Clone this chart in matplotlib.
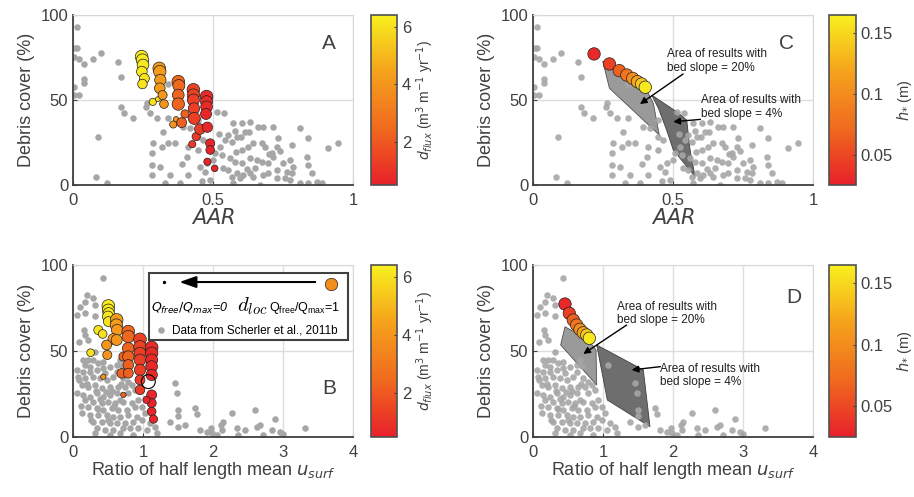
import numpy as np
import matplotlib
matplotlib.use('Agg')
import matplotlib.pyplot as plt
from matplotlib.colors import LinearSegmentedColormap, Normalize
from matplotlib.patches import Polygon, Rectangle
from matplotlib.ticker import FormatStrFormatter
import matplotlib.cm as cm

plt.rcParams['font.family'] = ['Liberation Sans', 'DejaVu Sans']

# --- Scherler et al. (2011b) glaciers, debris cover vs AAR ---
aar_x = [0.013, 0.007, 0.015, 0.004, 0.023, 0.039, 0.073, 0.099, 0.162, 0.171,
         0.039, 0.039, 0.004, 0.004, 0.023, 0.171, 0.182, 0.213, 0.09, 0.082,
         0.123, 0.263, 0.261, 0.275, 0.301, 0.34, 0.323, 0.284, 0.281, 0.317,
         0.34, 0.364, 0.281, 0.311, 0.281, 0.346, 0.329, 0.382, 0.388, 0.406,
         0.412, 0.412, 0.394, 0.418, 0.34, 0.382, 0.448, 0.465, 0.454, 0.448,
         0.477, 0.448, 0.472, 0.513, 0.539, 0.573, 0.602, 0.632, 0.662, 0.68,
         0.713, 0.579, 0.614, 0.63, 0.811, 0.555, 0.585, 0.84, 0.733, 0.543,
         0.567, 0.781, 0.912, 0.948, 0.644, 0.674, 0.686, 0.727, 0.626, 0.602,
         0.582, 0.525, 0.507, 0.531, 0.835, 0.71, 0.713, 0.775, 0.561, 0.579,
         0.602, 0.632, 0.656, 0.674, 0.698, 0.751, 0.787, 0.727, 0.763, 0.781,
         0.84, 0.852, 0.555, 0.585, 0.608, 0.632, 0.644, 0.68, 0.698, 0.567,
         0.596, 0.727, 0.757, 0.775, 0.811, 0.84, 0.87, 0.888, 0.668, 0.573,
         0.52, 0.5, 0.49, 0.535, 0.46, 0.62, 0.65, 0.7, 0.74, 0.6]
aar_y = [92.7, 80.7, 80.7, 75.4, 73.9, 71.1, 73.9, 77.8, 72.5, 63.7,
         62.1, 59.8, 57.4, 52.9, 52.9, 45.6, 42.5, 39.6, 28.4, 4.9,
         1.3, 48.4, 46.0, 42.5, 39.6, 39.2, 31.3, 24.9, 18.6, 22.5,
         24.5, 24.5, 11.7, 10.7, 5.8, 5.8, 1.3, 1.3, 12.3, 16.6,
         22.5, 5.8, 34.3, 33.3, 59.4, 57.4, 38.2, 26.4, 10.7, 28.4,
         12.7, 20.5, 7.8, 43.1, 42.5, 36.3, 36.3, 37.3, 33.9, 33.9,
         33.9, 31.9, 31.4, 31.4, 33.3, 29.4, 28.4, 27.8, 27.5, 26.5,
         25.5, 23.5, 21.6, 24.5, 24.5, 24.5, 22.5, 22.5, 22.5, 20.6,
         19.6, 22.5, 18.6, 17.6, 16.7, 18.6, 16.7, 14.7, 15.7, 13.7,
         12.7, 15.7, 14.7, 13.7, 12.7, 12.7, 10.8, 8.8, 7.8, 6.9,
         11.8, 6.9, 8.8, 6.9, 5.9, 6.9, 4.9, 5.9, 6.9, 4.9,
         3.9, 3.9, 3.9, 2.9, 1.0, 1.0, 2.0, 1.0, 0.0, 1.0,
         30.0, 15.0, 3.0, 10.0, 2.5, 9.5, 10.0, 18.0, 20.0, 28.0]

# --- same glaciers, debris cover vs ratio of half length mean u_surf ---
ratio_x = [0.424, 0.205, 0.281, 0.171, 0.314, 0.1, 0.052, 0.171, 0.314, 0.157,
           0.171, 0.219, 0.09, 0.314, 0.148, 0.219, 0.29, 0.171, 0.243, 0.362,
           0.433, 0.052, 0.148, 0.243, 0.338, 0.433, 0.529, 0.624, 0.671, 0.695,
           0.624, 0.076, 0.171, 0.29, 0.386, 0.481, 0.576, 0.719, 0.79, 0.124,
           0.219, 0.314, 0.41, 0.529, 0.648, 0.743, 0.838, 0.886, 0.052, 0.148,
           0.243, 0.338, 0.433, 0.529, 0.624, 0.671, 0.79, 0.171, 0.29, 0.41,
           0.505, 0.6, 0.719, 0.838, 0.933, 0.219, 0.338, 0.433, 0.552, 0.648,
           0.767, 0.886, 0.981, 0.124, 0.243, 0.362, 0.481, 0.576, 0.671, 0.79,
           0.91, 1.029, 0.29, 0.41, 0.529, 0.624, 0.743, 0.862, 0.981, 1.1,
           0.338, 0.457, 0.576, 0.719, 0.814, 0.933, 1.052, 1.171, 0.314, 0.529,
           0.671, 0.862, 1.195, 1.457, 1.48, 1.743, 1.767, 1.5, 1.38, 1.505,
           1.6, 1.814, 1.91, 1.98, 2.124, 2.267, 2.148, 2.338, 2.457, 2.624,
           2.838, 2.957, 3.314, 2.6, 2.886, 2.12, 2.67, 2.36, 2.71, 3.0,
           2.05, 1.97, 1.076, 1.505, 0.2, 0.38, 0.45, 0.26, 0.56, 0.68,
           0.36, 0.47, 0.58, 0.12, 0.09, 0.33, 0.5]
ratio_y = [92.2, 82.6, 80.6, 78.7, 76.7, 75.8, 70.9, 71.9, 70.3, 62.2,
           59.3, 56.4, 55.4, 49.6, 44.7, 44.7, 44.7, 41.9, 40.9, 42.8,
           43.8, 39.0, 38.0, 38.0, 39.0, 39.9, 40.9, 41.9, 44.7, 41.0,
           38.0, 35.1, 34.1, 35.1, 34.1, 33.1, 35.1, 34.1, 32.2, 30.2,
           29.3, 30.2, 28.3, 29.3, 29.3, 29.3, 30.2, 27.3, 25.4, 24.4,
           23.4, 25.4, 23.4, 24.4, 25.4, 21.5, 25.4, 21.5, 20.5, 19.6,
           20.5, 19.6, 20.5, 19.6, 21.5, 17.6, 16.7, 15.7, 16.7, 15.7,
           15.7, 17.6, 17.6, 13.8, 12.8, 12.8, 12.8, 11.8, 11.8, 12.8,
           11.8, 13.8, 8.9, 8.9, 7.9, 7.9, 7.9, 8.9, 9.9, 7.9,
           5.0, 4.1, 4.1, 5.0, 5.0, 5.0, 4.1, 6.0, 2.1, 1.2,
           2.1, 1.2, 2.1, 31.2, 25.4, 16.7, 13.4, 12.4, 8.5, 6.0,
           6.8, 4.0, 3.0, 2.1, 4.0, 13.8, 8.9, 5.0, 4.0, 6.0,
           4.0, 3.0, 5.0, 15.7, 10.2, 6.9, 6.9, 1.2, 1.2, 2.0,
           1.0, 5.0, 41.9, 15.7, 31.0, 22.0, 37.0, 10.0, 27.0, 31.0,
           16.0, 26.0, 18.0, 18.0, 33.0, 27.0, 10.0]

# --- model results, panel A: AAR, debris, Q_free/Q_max, d_flux ---
a_aar = [0.245, 0.248, 0.25, 0.246, 0.255, 0.248, 0.285, 0.303,
         0.308, 0.31, 0.312, 0.31, 0.32, 0.325, 0.358, 0.368,
         0.376, 0.378, 0.376, 0.376, 0.388, 0.4,
         0.43, 0.43, 0.43, 0.432, 0.433, 0.44, 0.426, 0.453,
         0.477, 0.477, 0.477, 0.475, 0.48, 0.49, 0.49, 0.48, 0.506]
a_deb = [75.5, 73.5, 70.6, 66.7, 62.7, 59.4, 48.9, 50.5,
         68.6, 66.7, 61.8, 56.9, 52.9, 47.6, 35.6, 38.7,
         60.8, 58.5, 52.9, 47.6, 36.7, 41.8,
         56.0, 52.9, 50.0, 45.0, 39.2, 28.5, 24.0, 32.9,
         52.0, 49.0, 46.0, 41.8, 34.0, 24.5, 20.6, 13.7, 9.8]
a_q = [1.0, 0.95, 0.85, 0.7, 0.6, 0.55, 0.3, 0.12,
       1.0, 0.95, 0.8, 0.7, 0.5, 0.45, 0.3, 0.15,
       1.0, 0.9, 0.85, 0.95, 0.6, 0.4,
       1.0, 0.95, 0.9, 0.8, 0.9, 0.4, 0.3, 0.7,
       1.0, 0.9, 0.85, 0.75, 0.65, 0.5, 0.45, 0.3, 0.25]
a_flux = [6.3, 6.3, 6.2, 6.2, 6.1, 6.1, 6.0, 6.0,
          4.2, 4.2, 4.1, 4.1, 4.0, 4.0, 3.9, 3.9,
          2.4, 2.4, 2.3, 2.3, 2.2, 2.2,
          1.4, 1.4, 1.3, 1.3, 1.3, 1.2, 1.2, 1.2,
          0.8, 0.8, 0.8, 0.7, 0.7, 0.7, 0.6, 0.6, 0.6]

# --- panel B: ratio, debris, Q_free/Q_max, d_flux ---
b_ratio = [0.505, 0.505, 0.51, 0.5, 0.505, 0.362, 0.424, 0.252,
           0.624, 0.62, 0.63, 0.576, 0.624, 0.48, 0.49, 0.433,
           0.79, 0.79, 0.72, 0.79, 0.79, 0.79, 0.695, 0.79, 0.72,
           0.957, 0.957, 0.957, 0.957, 0.957, 0.957, 0.957,
           1.124, 1.124, 1.124, 1.124, 1.124, 1.124, 1.124, 1.05, 1.124, 1.15]
b_deb = [76.2, 73.8, 71.9, 70.0, 67.1, 62.2, 59.9, 49.0,
         68.1, 65.1, 62.2, 57.0, 56.4, 53.5, 47.7, 35.0,
         61.3, 58.4, 46.8, 51.6, 46.8, 41.9, 37.0, 37.1, 24.5,
         56.8, 52.5, 48.7, 44.8, 39.0, 33.2, 27.4,
         52.1, 48.7, 44.8, 41.0, 36.1, 24.5, 19.7, 21.6, 14.8, 10.4]
b_q = [1.0, 0.9, 0.8, 0.75, 0.6, 0.5, 0.45, 0.35,
       1.0, 0.95, 0.8, 0.7, 0.75, 0.6, 0.5, 0.15,
       1.0, 0.95, 0.5, 0.85, 0.8, 0.7, 0.55, 0.6, 0.15,
       1.0, 0.95, 0.9, 0.85, 0.8, 0.6, 0.55,
       1.0, 0.95, 0.9, 0.85, 0.8, 0.6, 0.5, 0.3, 0.45, 0.4]
b_flux = [6.3, 6.3, 6.2, 6.2, 6.1, 6.1, 6.0, 6.0,
          4.2, 4.2, 4.1, 4.1, 4.0, 4.0, 3.9, 3.9,
          2.4, 2.4, 2.3, 2.3, 2.3, 2.2, 2.2, 2.2, 2.2,
          1.4, 1.4, 1.3, 1.3, 1.3, 1.2, 1.2,
          0.8, 0.8, 0.8, 0.7, 0.7, 0.7, 0.6, 0.6, 0.6, 0.6]

# --- panels C and D: h_* series ---
c_aar = [0.218, 0.273, 0.308, 0.335, 0.356, 0.373, 0.388, 0.401]
c_deb = [77.1, 71.2, 67.3, 64.7, 62.7, 60.8, 59.4, 57.5]
d_ratio = [0.457, 0.519, 0.576, 0.624, 0.671, 0.719, 0.767, 0.805]
d_deb = [77.3, 71.9, 68.0, 65.1, 62.6, 60.6, 59.3, 57.4]
h_star = [0.03, 0.045, 0.065, 0.08, 0.1, 0.12, 0.14, 0.16]

# result areas (bed slope 20% and 4%)
c_area20 = [(0.249, 72.9), (0.4, 57.5), (0.43, 48.0), (0.451, 29.4), (0.273, 56.9)]
c_area4 = [(0.424, 52.9), (0.513, 43.1), (0.549, 38.2), (0.561, 20.6),
           (0.579, 4.9), (0.501, 20.6), (0.477, 32.4), (0.448, 45.1)]
d_area20 = [(0.457, 64.1), (0.79, 56.4), (0.9, 50.6), (0.91, 30.2), (0.395, 53.5)]
d_area4 = [(0.91, 53.5), (1.576, 39.0), (1.671, 6.0), (1.062, 21.5)]

cmap = LinearSegmentedColormap.from_list(
    'ry', ['#e8202a', '#f06a1e', '#f5a21c', '#f8f01e'])
flux_norm = Normalize(0.5, 6.4)
h_norm = Normalize(0.025, 0.165)
grey = '#a6a6a6'
txt = '#404040'
gs = 22


def size(q):
    return 3 + 80 * np.asarray(q)


def style(ax, xmax, xticks, xlabel, letter, lx, ly):
    ax.set_xlim(0, xmax)
    ax.set_ylim(0, 100)
    ax.set_xticks(xticks)
    ax.set_yticks([0, 50, 100])
    ax.xaxis.set_major_formatter(FormatStrFormatter('%g'))
    ax.grid(True, color='#dedede', lw=1)
    ax.set_axisbelow(True)
    for s in ['left', 'bottom']:
        ax.spines[s].set_color(txt)
        ax.spines[s].set_linewidth(1.3)
    for s in ['top', 'right']:
        ax.spines[s].set_color('#d8d8d8')
    ax.tick_params(direction='in', length=3, labelsize=12, colors=txt)
    ax.tick_params(axis='x', pad=6)
    ax.set_ylabel('Debris cover (%)', fontsize=13, color=txt)
    ax.set_xlabel(xlabel, fontsize=13 if 'Ratio' in xlabel else 15, color=txt,
                  labelpad=0)
    ax.text(lx, ly, letter, transform=ax.transAxes, fontsize=15, color=txt)


def cbar(fig, rect, norm, ticks, label, fmt, fs, pad):
    cax = fig.add_axes(rect)
    cb = fig.colorbar(cm.ScalarMappable(norm=norm, cmap=cmap), cax=cax)
    cb.set_ticks(ticks)
    cb.set_ticklabels(fmt)
    cb.outline.set_edgecolor('#505050')
    cb.outline.set_linewidth(1.2)
    cax.tick_params(labelsize=12, colors=txt, length=2, direction='in')
    cb.set_label(label, fontsize=fs, color=txt, labelpad=pad)
    return cb


fig = plt.figure(figsize=(9.14, 4.97), dpi=100)
W, H = 914.0, 497.0
axA = fig.add_axes([73 / W, 1 - 185 / H, 280 / W, 170 / H])
axB = fig.add_axes([73 / W, 1 - 437 / H, 280 / W, 172 / H])
axC = fig.add_axes([533 / W, 1 - 185 / H, 280 / W, 170 / H])
axD = fig.add_axes([533 / W, 1 - 437 / H, 280 / W, 172 / H])

# A
axA.scatter(aar_x, aar_y, s=gs, c=grey, lw=0, zorder=2)
axA.scatter(a_aar, a_deb, s=size(a_q), c=a_flux, cmap=cmap, norm=flux_norm,
            edgecolors='#202020', linewidths=0.5, zorder=3)
style(axA, 1, [0, 0.5, 1], '$AAR$', 'A', 0.89, 0.8)

# B
axB.scatter(ratio_x, ratio_y, s=gs, c=grey, lw=0, zorder=2)
axB.scatter(b_ratio, b_deb, s=size(b_q), c=b_flux, cmap=cmap, norm=flux_norm,
            edgecolors='#202020', linewidths=0.5, zorder=3)
axB.scatter([1.076], [32.2], s=100, facecolors='none', edgecolors='k',
            linewidths=0.8, zorder=4)
style(axB, 4, [0, 1, 2, 3, 4], 'Ratio of half length mean $u_{surf}$', 'B',
      0.89, 0.25)

# custom legend in B
axB.add_patch(Rectangle((0.271, 0.564), 0.711, 0.389, transform=axB.transAxes,
                        facecolor='white', edgecolor='#404040', lw=1.5,
                        zorder=5))
axB.scatter([0.325], [0.901], s=2, c='k', transform=axB.transAxes, zorder=6)
axB.scatter([0.921], [0.89], s=80, c=[cmap(0.55)], edgecolors='#202020',
            linewidths=0.5, transform=axB.transAxes, zorder=6)
axB.annotate('', xy=(0.37, 0.901), xytext=(0.875, 0.901),
             xycoords='axes fraction',
             arrowprops=dict(arrowstyle='-|>,head_length=1.0,head_width=0.35',
                             lw=1.5, color='k'), zorder=6)
axB.text(0.279, 0.75, '$Q_{free}/Q_{max}$=0', transform=axB.transAxes,
         fontsize=9, style='italic', va='center', zorder=6)
axB.text(0.585, 0.76, '$d_{loc}$', transform=axB.transAxes, fontsize=15,
         math_fontfamily='cm', va='center', zorder=6)
axB.text(0.70, 0.75, '$\\mathregular{Q_{free}/Q_{max}}$=1',
         transform=axB.transAxes, fontsize=9, va='center', zorder=6)
axB.scatter([0.314], [0.622], s=gs, c=grey, lw=0, transform=axB.transAxes,
            zorder=6)
axB.text(0.352, 0.622, 'Data from Scherler et al., 2011b',
         transform=axB.transAxes, fontsize=8.5, va='center', zorder=6)

# C
axC.add_patch(Polygon(c_area20, closed=True, facecolor='#9a9a9a',
                      edgecolor='#505050', lw=0.6, zorder=1.5))
axC.add_patch(Polygon(c_area4, closed=True, facecolor='#6e6e6e',
                      edgecolor='#404040', lw=0.6, zorder=1.5))
axC.scatter(aar_x, aar_y, s=gs, c=grey, lw=0, zorder=2, alpha=0.9)
axC.scatter(c_aar, c_deb, s=80, c=h_star, cmap=cmap, norm=h_norm,
            edgecolors='#202020', linewidths=0.5, zorder=3)
style(axC, 1, [0, 0.5, 1], '$AAR$', 'C', 0.88, 0.8)
axC.annotate('', xy=(0.382, 47.6), xytext=(0.536, 65.3),
             arrowprops=dict(arrowstyle='-|>', lw=1, color='k',
                             shrinkA=0, shrinkB=0), zorder=5)
axC.text(0.48, 67.0, 'Area of results with\nbed slope = 20%', fontsize=8.5,
         color='#202020', zorder=5)
axC.annotate('', xy=(0.501, 37.2), xytext=(0.598, 38.6),
             arrowprops=dict(arrowstyle='-|>', lw=1, color='k',
                             shrinkA=0, shrinkB=0), zorder=5)
axC.text(0.6, 40.0, 'Area of results with\nbed slope = 4%', fontsize=8.5,
         color='#202020', zorder=5)

# D
axD.add_patch(Polygon(d_area20, closed=True, facecolor='#9a9a9a',
                      edgecolor='#505050', lw=0.6, zorder=1.5))
axD.add_patch(Polygon(d_area4, closed=True, facecolor='#6e6e6e',
                      edgecolor='#404040', lw=0.6, zorder=1.5))
axD.scatter(ratio_x, ratio_y, s=gs, c=grey, lw=0, zorder=2, alpha=0.9)
axD.scatter(d_ratio, d_deb, s=80, c=h_star, cmap=cmap, norm=h_norm,
            edgecolors='#202020', linewidths=0.5, zorder=3)
style(axD, 4, [0, 1, 2, 3, 4], 'Ratio of half length mean $u_{surf}$', 'D',
      0.905, 0.78)
axD.annotate('', xy=(0.719, 48.3), xytext=(1.338, 65.1),
             arrowprops=dict(arrowstyle='-|>', lw=1, color='k',
                             shrinkA=0, shrinkB=0), zorder=5)
axD.text(1.2, 66.0, 'Area of results with\nbed slope = 20%', fontsize=8.5,
         color='#202020', zorder=5)
axD.annotate('', xy=(1.41, 39.0), xytext=(1.82, 40.9),
             arrowprops=dict(arrowstyle='-|>', lw=1, color='k',
                             shrinkA=0, shrinkB=0), zorder=5)
axD.text(1.81, 30.0, 'Area of results with\nbed slope = 4%', fontsize=8.5,
         color='#202020', zorder=5)

# colour bars
flux_lab = '$d_{flux}$ (m$^3$ m$^{-1}$ yr$^{-1}$)'
cbar(fig, [371 / W, 1 - 185 / H, 26 / W, 170 / H], flux_norm, [2, 4, 6],
     flux_lab, ['2', '4', '6'], 10, 2)
cbar(fig, [371 / W, 1 - 437 / H, 26 / W, 172 / H], flux_norm, [2, 4, 6],
     flux_lab, ['2', '4', '6'], 10, 2)
cbar(fig, [829 / W, 1 - 185 / H, 27 / W, 170 / H], h_norm,
     [0.05, 0.1, 0.15], '$h_{*}$ (m)', ['0.05', '0.1', '0.15'], 10.5, 1)
cbar(fig, [829 / W, 1 - 437 / H, 27 / W, 172 / H], h_norm,
     [0.05, 0.1, 0.15], '$h_{*}$ (m)', ['0.05', '0.1', '0.15'], 10.5, 1)

fig.savefig('out.png', dpi=100)
